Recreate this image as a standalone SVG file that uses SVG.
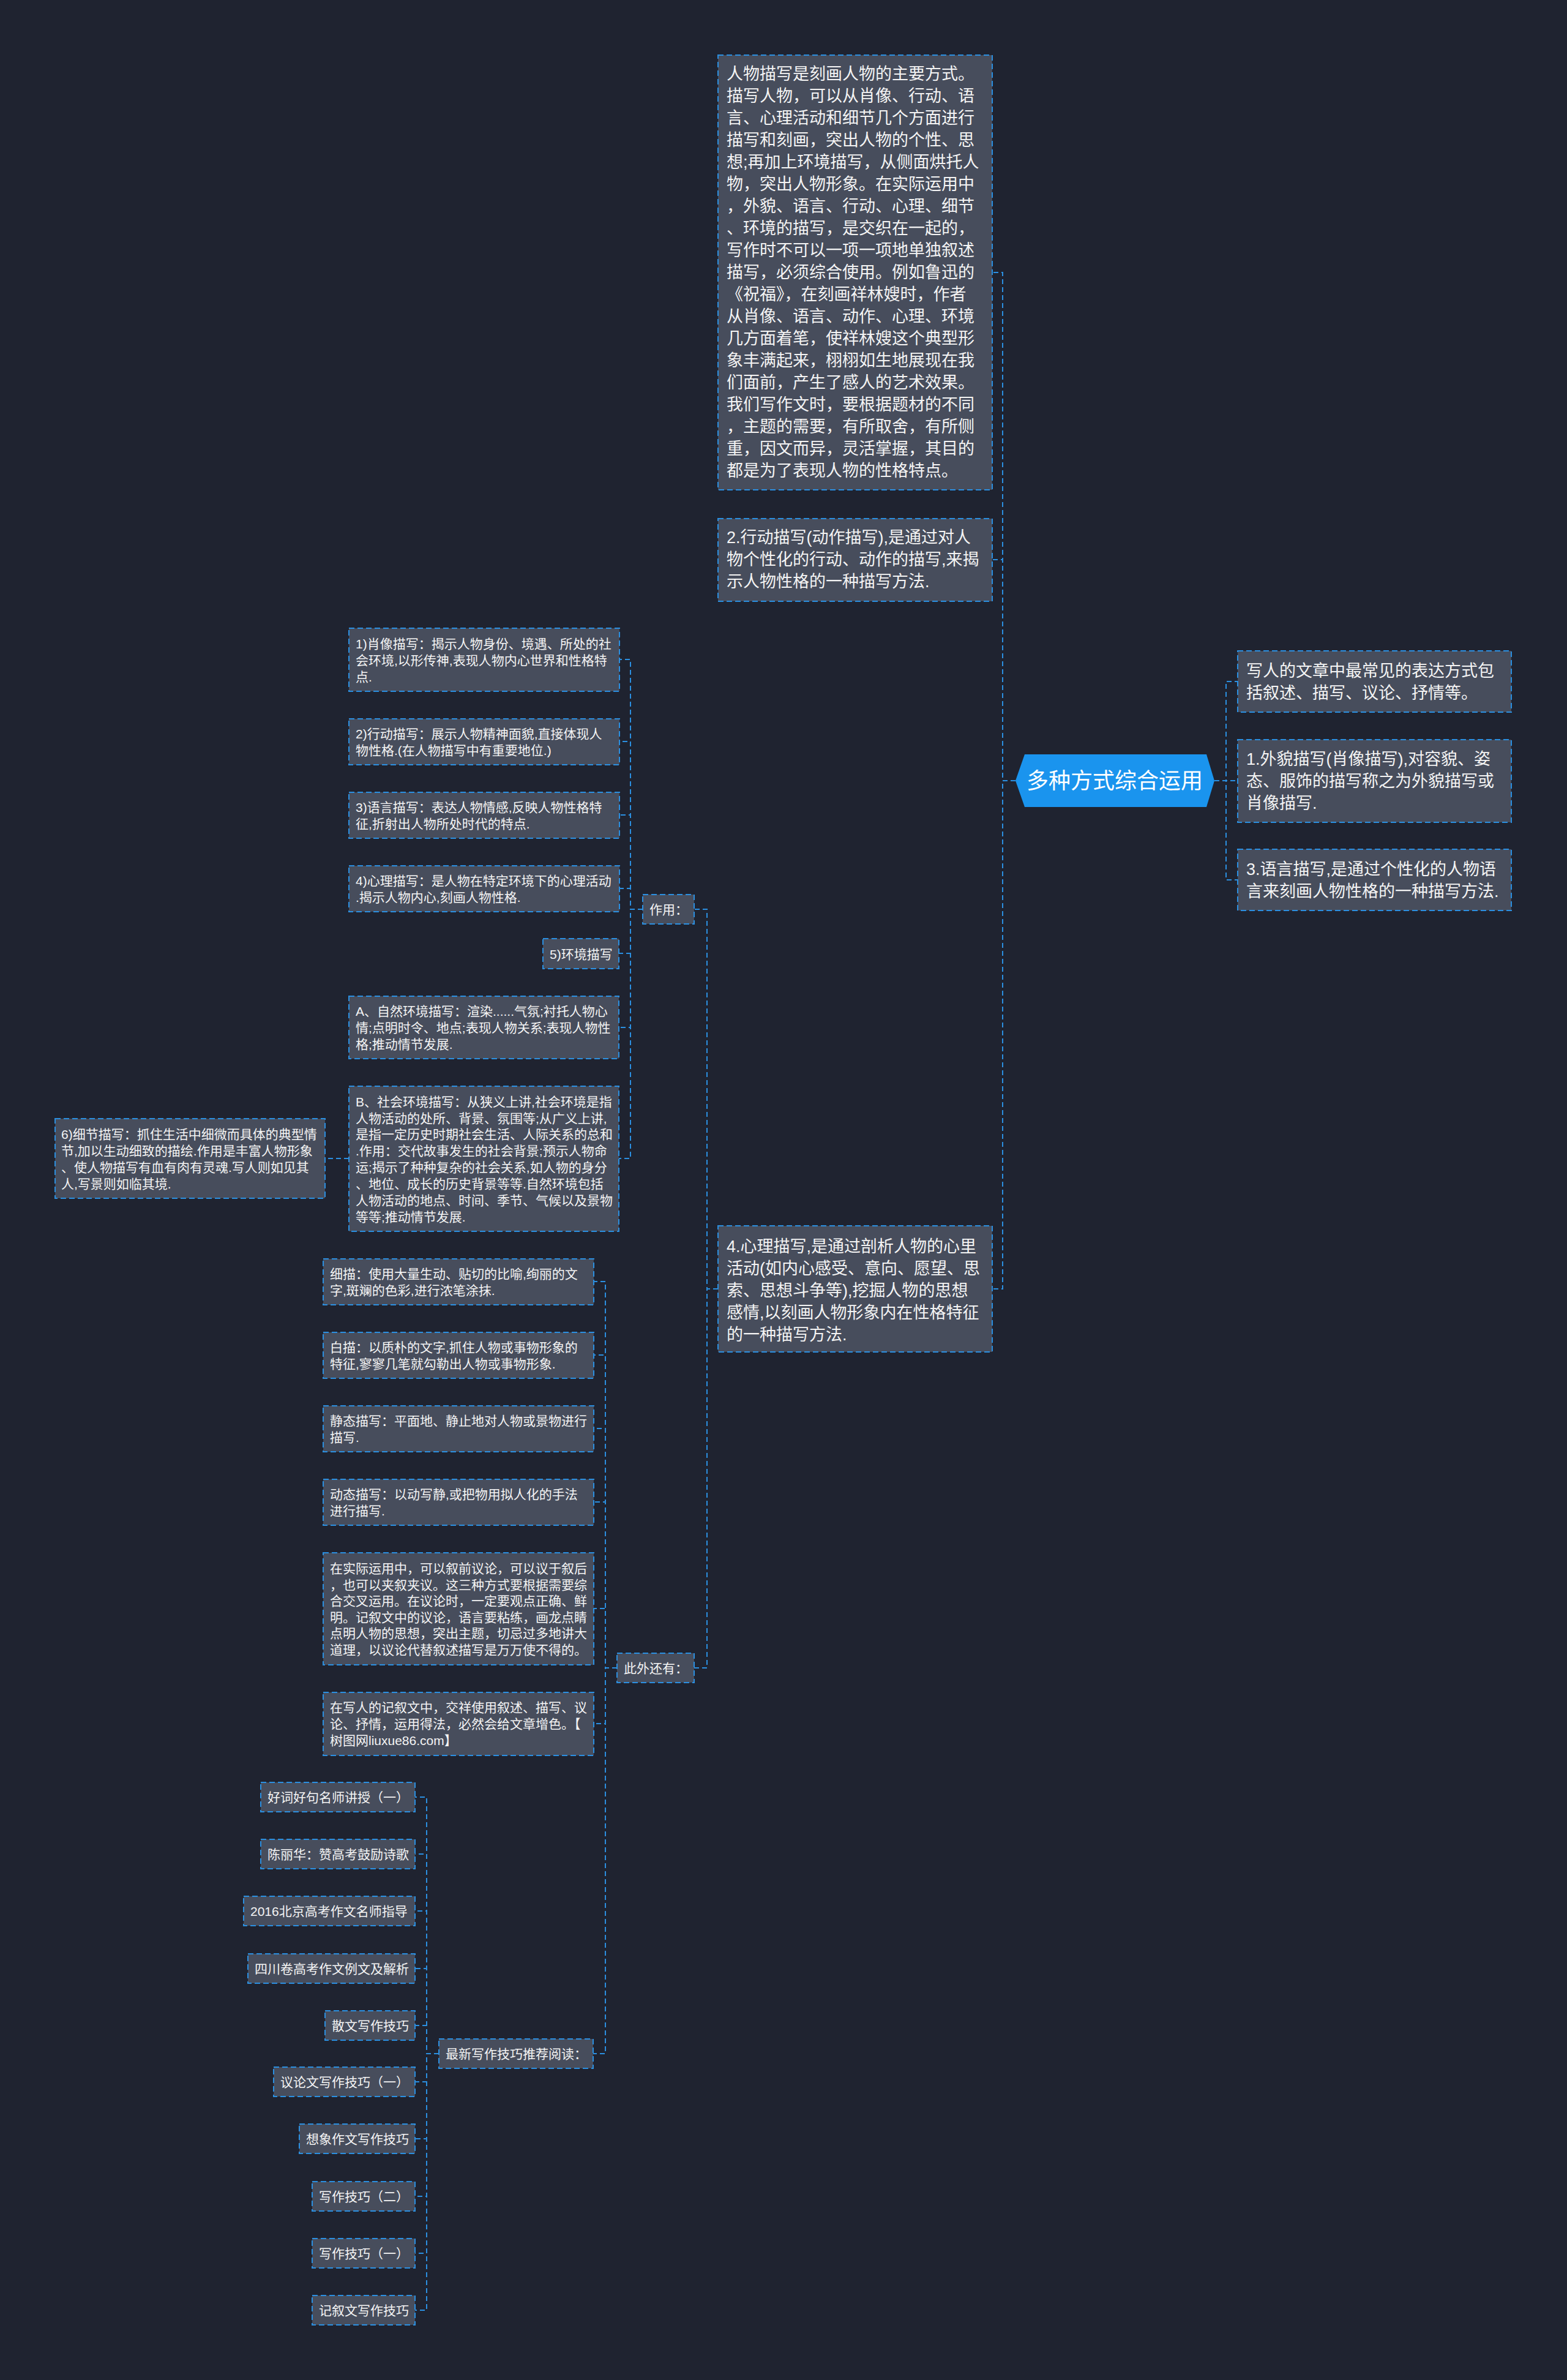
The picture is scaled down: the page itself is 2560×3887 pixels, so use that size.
<svg xmlns="http://www.w3.org/2000/svg" width="2560" height="3887" viewBox="0 0 2560 3887">
<style>
.bg{fill:#1f2330}
.n{fill:#474d5c;stroke:#2b8fe0;stroke-width:2;stroke-dasharray:9 5}
.c{fill:none;stroke:#2b8fe0;stroke-width:2;stroke-dasharray:8 5}
.t27{font-family:"Liberation Sans","Noto Sans CJK SC",sans-serif;font-size:27px;fill:#f4f4f4}
.t21{font-family:"Liberation Sans","Noto Sans CJK SC",sans-serif;font-size:21px;fill:#f4f4f4}
.root{fill:#1a94ee}
.tr{font-family:"Liberation Sans","Noto Sans CJK SC",sans-serif;font-size:36px;fill:#ffffff}
</style>
<rect class="bg" x="0" y="0" width="2560" height="3887"/>
<g id="connectors">
<path class="c" d="M1659,1275 H1638 V445 H1621"/>
<path class="c" d="M1659,1275 H1638 V914 H1621"/>
<path class="c" d="M1659,1275 H1638 V2105 H1621"/>
<path class="c" d="M1984,1275 H2003 V1113 H2022"/>
<path class="c" d="M1984,1275 H2022"/>
<path class="c" d="M1984,1275 H2003 V1437 H2022"/>
<path class="c" d="M1173,2105 H1155 V1485 H1134"/>
<path class="c" d="M1173,2105 H1155 V2724 H1134"/>
<path class="c" d="M1050,1485 H1030 V1077 H1012"/>
<path class="c" d="M1050,1485 H1030 V1211 H1012"/>
<path class="c" d="M1050,1485 H1030 V1331 H1012"/>
<path class="c" d="M1050,1485 H1030 V1451 H1012"/>
<path class="c" d="M1050,1485 H1030 V1557 H1011"/>
<path class="c" d="M1050,1485 H1030 V1678 H1011"/>
<path class="c" d="M1050,1485 H1030 V1892 H1011"/>
<path class="c" d="M570,1892 H531"/>
<path class="c" d="M1008,2724 H989 V2093 H970"/>
<path class="c" d="M1008,2724 H989 V2213 H970"/>
<path class="c" d="M1008,2724 H989 V2333 H970"/>
<path class="c" d="M1008,2724 H989 V2453 H970"/>
<path class="c" d="M1008,2724 H989 V2627 H970"/>
<path class="c" d="M1008,2724 H989 V2815 H970"/>
<path class="c" d="M1008,2724 H989 V3354 H969"/>
<path class="c" d="M717,3354 H697 V2935 H678"/>
<path class="c" d="M717,3354 H697 V3028 H678"/>
<path class="c" d="M717,3354 H697 V3121 H678"/>
<path class="c" d="M717,3354 H697 V3215 H678"/>
<path class="c" d="M717,3354 H697 V3308 H678"/>
<path class="c" d="M717,3354 H697 V3400 H678"/>
<path class="c" d="M717,3354 H697 V3493 H678"/>
<path class="c" d="M717,3354 H697 V3587 H678"/>
<path class="c" d="M717,3354 H697 V3680 H678"/>
<path class="c" d="M717,3354 H697 V3773 H678"/>
</g>
<g id="root">
<polygon class="root" points="1659,1275 1674,1232 1971,1232 1984,1275 1971,1318 1674,1318"/>
<text class="tr" x="1821" y="1288" text-anchor="middle">多种方式综合运用</text>
</g>
<g id="n-intro">
<rect class="n" x="1173" y="90" width="448" height="710"/>
<text class="t27">
<tspan x="1187" y="130">人物描写是刻画人物的主要方式。</tspan>
<tspan x="1187" y="166">描写人物，可以从肖像、行动、语</tspan>
<tspan x="1187" y="202">言、心理活动和细节几个方面进行</tspan>
<tspan x="1187" y="238">描写和刻画，突出人物的个性、思</tspan>
<tspan x="1187" y="274">想;再加上环境描写，从侧面烘托人</tspan>
<tspan x="1187" y="310">物，突出人物形象。在实际运用中</tspan>
<tspan x="1187" y="346">，外貌、语言、行动、心理、细节</tspan>
<tspan x="1187" y="382">、环境的描写，是交织在一起的，</tspan>
<tspan x="1187" y="418">写作时不可以一项一项地单独叙述</tspan>
<tspan x="1187" y="454">描写，必须综合使用。例如鲁迅的</tspan>
<tspan x="1187" y="490">《祝福》，在刻画祥林嫂时，作者</tspan>
<tspan x="1187" y="526">从肖像、语言、动作、心理、环境</tspan>
<tspan x="1187" y="562">几方面着笔，使祥林嫂这个典型形</tspan>
<tspan x="1187" y="598">象丰满起来，栩栩如生地展现在我</tspan>
<tspan x="1187" y="634">们面前，产生了感人的艺术效果。</tspan>
<tspan x="1187" y="670">我们写作文时，要根据题材的不同</tspan>
<tspan x="1187" y="706">，主题的需要，有所取舍，有所侧</tspan>
<tspan x="1187" y="742">重，因文而异，灵活掌握，其目的</tspan>
<tspan x="1187" y="778">都是为了表现人物的性格特点。</tspan>
</text>
</g>
<g id="n-action">
<rect class="n" x="1173" y="847" width="448" height="135"/>
<text class="t27">
<tspan x="1187" y="887">2.行动描写(动作描写),是通过对人</tspan>
<tspan x="1187" y="923">物个性化的行动、动作的描写,来揭</tspan>
<tspan x="1187" y="959">示人物性格的一种描写方法.</tspan>
</text>
</g>
<g id="n-psych">
<rect class="n" x="1173" y="2002" width="448" height="206"/>
<text class="t27">
<tspan x="1187" y="2045">4.心理描写,是通过剖析人物的心里</tspan>
<tspan x="1187" y="2081">活动(如内心感受、意向、愿望、思</tspan>
<tspan x="1187" y="2117">索、思想斗争等),挖掘人物的思想</tspan>
<tspan x="1187" y="2153">感情,以刻画人物形象内在性格特征</tspan>
<tspan x="1187" y="2189">的一种描写方法.</tspan>
</text>
</g>
<g id="n-common">
<rect class="n" x="2022" y="1063" width="447" height="100"/>
<text class="t27">
<tspan x="2036" y="1105">写人的文章中最常见的表达方式包</tspan>
<tspan x="2036" y="1141">括叙述、描写、议论、抒情等。</tspan>
</text>
</g>
<g id="n-appearance">
<rect class="n" x="2022" y="1208" width="447" height="135"/>
<text class="t27">
<tspan x="2036" y="1249">1.外貌描写(肖像描写),对容貌、姿</tspan>
<tspan x="2036" y="1285">态、服饰的描写称之为外貌描写或</tspan>
<tspan x="2036" y="1321">肖像描写.</tspan>
</text>
</g>
<g id="n-language">
<rect class="n" x="2022" y="1387" width="447" height="100"/>
<text class="t27">
<tspan x="2036" y="1429">3.语言描写,是通过个性化的人物语</tspan>
<tspan x="2036" y="1465">言来刻画人物性格的一种描写方法.</tspan>
</text>
</g>
<g id="n-zuoyong">
<rect class="n" x="1050" y="1461" width="84" height="48"/>
<text class="t21" x="1061" y="1493">作用：</text>
</g>
<g id="n-z1">
<rect class="n" x="570" y="1026" width="442" height="103"/>
<text class="t21">
<tspan x="581" y="1059">1)肖像描写：揭示人物身份、境遇、所处的社</tspan>
<tspan x="581" y="1086">会环境,以形传神,表现人物内心世界和性格特</tspan>
<tspan x="581" y="1113">点.</tspan>
</text>
</g>
<g id="n-z2">
<rect class="n" x="570" y="1174" width="442" height="75"/>
<text class="t21">
<tspan x="581" y="1206">2)行动描写：展示人物精神面貌,直接体现人</tspan>
<tspan x="581" y="1233">物性格.(在人物描写中有重要地位.)</tspan>
</text>
</g>
<g id="n-z3">
<rect class="n" x="570" y="1294" width="442" height="75"/>
<text class="t21">
<tspan x="581" y="1326">3)语言描写：表达人物情感,反映人物性格特</tspan>
<tspan x="581" y="1353">征,折射出人物所处时代的特点.</tspan>
</text>
</g>
<g id="n-z4">
<rect class="n" x="570" y="1414" width="442" height="75"/>
<text class="t21">
<tspan x="581" y="1446">4)心理描写：是人物在特定环境下的心理活动</tspan>
<tspan x="581" y="1473">.揭示人物内心,刻画人物性格.</tspan>
</text>
</g>
<g id="n-z5">
<rect class="n" x="887" y="1533" width="124" height="49"/>
<text class="t21" x="898" y="1566">5)环境描写</text>
</g>
<g id="n-zA">
<rect class="n" x="570" y="1627" width="441" height="102"/>
<text class="t21">
<tspan x="581" y="1659">A、自然环境描写：渲染......气氛;衬托人物心</tspan>
<tspan x="581" y="1686">情;点明时令、地点;表现人物关系;表现人物性</tspan>
<tspan x="581" y="1713">格;推动情节发展.</tspan>
</text>
</g>
<g id="n-zB">
<rect class="n" x="570" y="1774" width="441" height="237"/>
<text class="t21">
<tspan x="581" y="1807">B、社会环境描写：从狭义上讲,社会环境是指</tspan>
<tspan x="581" y="1834">人物活动的处所、背景、氛围等;从广义上讲,</tspan>
<tspan x="581" y="1860">是指一定历史时期社会生活、人际关系的总和</tspan>
<tspan x="581" y="1887">.作用：交代故事发生的社会背景;预示人物命</tspan>
<tspan x="581" y="1914">运;揭示了种种复杂的社会关系,如人物的身分</tspan>
<tspan x="581" y="1941">、地位、成长的历史背景等等.自然环境包括</tspan>
<tspan x="581" y="1968">人物活动的地点、时间、季节、气候以及景物</tspan>
<tspan x="581" y="1995">等等;推动情节发展.</tspan>
</text>
</g>
<g id="n-z6">
<rect class="n" x="90" y="1827" width="441" height="130"/>
<text class="t21">
<tspan x="100" y="1860">6)细节描写：抓住生活中细微而具体的典型情</tspan>
<tspan x="100" y="1887">节,加以生动细致的描绘.作用是丰富人物形象</tspan>
<tspan x="100" y="1914">、使人物描写有血有肉有灵魂.写人则如见其</tspan>
<tspan x="100" y="1941">人,写景则如临其境.</tspan>
</text>
</g>
<g id="n-ciwai">
<rect class="n" x="1008" y="2700" width="126" height="48"/>
<text class="t21" x="1019" y="2732">此外还有：</text>
</g>
<g id="n-c1">
<rect class="n" x="528" y="2056" width="442" height="75"/>
<text class="t21">
<tspan x="539" y="2088">细描：使用大量生动、贴切的比喻,绚丽的文</tspan>
<tspan x="539" y="2115">字,斑斓的色彩,进行浓笔涂抹.</tspan>
</text>
</g>
<g id="n-c2">
<rect class="n" x="528" y="2176" width="442" height="75"/>
<text class="t21">
<tspan x="539" y="2208">白描：以质朴的文字,抓住人物或事物形象的</tspan>
<tspan x="539" y="2235">特征,寥寥几笔就勾勒出人物或事物形象.</tspan>
</text>
</g>
<g id="n-c3">
<rect class="n" x="528" y="2296" width="442" height="75"/>
<text class="t21">
<tspan x="539" y="2328">静态描写：平面地、静止地对人物或景物进行</tspan>
<tspan x="539" y="2355">描写.</tspan>
</text>
</g>
<g id="n-c4">
<rect class="n" x="528" y="2416" width="442" height="75"/>
<text class="t21">
<tspan x="539" y="2448">动态描写：以动写静,或把物用拟人化的手法</tspan>
<tspan x="539" y="2475">进行描写.</tspan>
</text>
</g>
<g id="n-c5">
<rect class="n" x="528" y="2536" width="442" height="183"/>
<text class="t21">
<tspan x="539" y="2569">在实际运用中，可以叙前议论，可以议于叙后</tspan>
<tspan x="539" y="2596">，也可以夹叙夹议。这三种方式要根据需要综</tspan>
<tspan x="539" y="2622">合交叉运用。在议论时，一定要观点正确、鲜</tspan>
<tspan x="539" y="2649">明。记叙文中的议论，语言要粘练，画龙点睛</tspan>
<tspan x="539" y="2675">点明人物的思想，突出主题，切忌过多地讲大</tspan>
<tspan x="539" y="2702">道理，以议论代替叙述描写是万万使不得的。</tspan>
</text>
</g>
<g id="n-c6">
<rect class="n" x="528" y="2764" width="442" height="103"/>
<text class="t21">
<tspan x="539" y="2796">在写人的记叙文中，交祥使用叙述、描写、议</tspan>
<tspan x="539" y="2823">论、抒情，运用得法，必然会给文章增色。【</tspan>
<tspan x="539" y="2850">树图网liuxue86.com】</tspan>
</text>
</g>
<g id="n-latest">
<rect class="n" x="717" y="3330" width="252" height="48"/>
<text class="t21" x="728" y="3362">最新写作技巧推荐阅读：</text>
</g>
<g id="n-l1">
<rect class="n" x="426" y="2911" width="252" height="48"/>
<text class="t21" x="437" y="2943">好词好句名师讲授（一）</text>
</g>
<g id="n-l2">
<rect class="n" x="426" y="3004" width="252" height="48"/>
<text class="t21" x="437" y="3036">陈丽华：赞高考鼓励诗歌</text>
</g>
<g id="n-l3">
<rect class="n" x="398" y="3097" width="280" height="48"/>
<text class="t21" x="409" y="3129">2016北京高考作文名师指导</text>
</g>
<g id="n-l4">
<rect class="n" x="405" y="3191" width="273" height="48"/>
<text class="t21" x="416" y="3223">四川卷高考作文例文及解析</text>
</g>
<g id="n-l5">
<rect class="n" x="531" y="3284" width="147" height="48"/>
<text class="t21" x="542" y="3316">散文写作技巧</text>
</g>
<g id="n-l6">
<rect class="n" x="447" y="3376" width="231" height="48"/>
<text class="t21" x="458" y="3408">议论文写作技巧（一）</text>
</g>
<g id="n-l7">
<rect class="n" x="489" y="3469" width="189" height="48"/>
<text class="t21" x="500" y="3501">想象作文写作技巧</text>
</g>
<g id="n-l8">
<rect class="n" x="510" y="3563" width="168" height="48"/>
<text class="t21" x="521" y="3595">写作技巧（二）</text>
</g>
<g id="n-l9">
<rect class="n" x="510" y="3656" width="168" height="48"/>
<text class="t21" x="521" y="3688">写作技巧（一）</text>
</g>
<g id="n-l10">
<rect class="n" x="510" y="3749" width="168" height="48"/>
<text class="t21" x="521" y="3781">记叙文写作技巧</text>
</g>
</svg>
